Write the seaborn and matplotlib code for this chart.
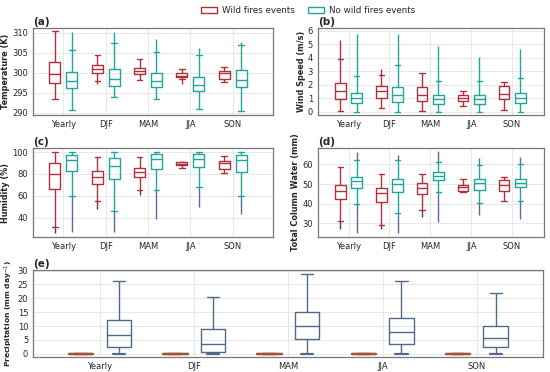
import matplotlib
matplotlib.use("Agg")
import matplotlib.pyplot as plt
from matplotlib.patches import Patch
import seaborn as sns
import pandas as pd

seasons = ["Yearly", "DJF", "MAM", "JJA", "SON"]
groups = ["Wild fires events", "No wild fires events"]

# five-number summaries per season: [whisker low, q1, median, q3, whisker high]
temp_fire = [[293.3, 297.4, 299.7, 302.6, 310.3],
             [297.9, 300.0, 301.0, 301.8, 304.3],
             [298.1, 299.7, 300.5, 301.1, 303.4],
             [298.5, 298.8, 299.2, 299.8, 301.0],
             [297.7, 298.5, 300.0, 300.5, 301.3]]
temp_nofire = [[290.7, 296.2, 297.9, 300.1, 305.7],
               [293.8, 296.6, 298.4, 301.0, 307.4],
               [293.3, 296.4, 297.9, 300.0, 305.1],
               [290.9, 295.5, 296.9, 299.0, 304.4],
               [290.3, 296.4, 298.1, 300.6, 306.9]]
temp_fire_lo = [None, 297.2, None, 297.2, None]
temp_fire_hi = [None, None, None, None, None]
temp_nofire_lo = [None, None, None, None, None]
temp_nofire_hi = [310.2, 310.2, 308.4, 306.1, 307.7]

wind_fire = [[0.05, 0.92, 1.50, 2.14, 3.93],
             [0.24, 1.02, 1.50, 1.90, 2.72],
             [0.07, 0.75, 1.21, 1.84, 2.84],
             [0.41, 0.78, 1.00, 1.26, 1.55],
             [0.12, 0.92, 1.31, 1.87, 2.20]]
wind_nofire = [[0.0, 0.60, 1.00, 1.41, 2.60],
               [0.0, 0.73, 1.21, 1.84, 3.47],
               [0.0, 0.58, 0.90, 1.26, 2.30],
               [0.0, 0.58, 0.95, 1.21, 2.23],
               [0.0, 0.60, 1.00, 1.38, 2.50]]
wind_fire_lo = [None, None, None, None, None]
wind_fire_hi = [5.3, 3.15, None, None, None]
wind_nofire_lo = [None, None, None, None, None]
wind_nofire_hi = [5.75, 5.75, 4.85, 4.05, 4.6]

hum_fire = [[31.6, 66.1, 79.5, 89.7, 100.0],
            [54.9, 70.5, 77.0, 82.3, 95.3],
            [65.5, 77.0, 81.7, 85.7, 95.3],
            [85.4, 88.5, 89.5, 90.8, 91.3],
            [80.7, 84.5, 89.7, 91.6, 96.0]]
hum_nofire = [[59.6, 82.3, 92.5, 97.5, 100.0],
              [46.5, 75.1, 87.6, 94.7, 100.0],
              [65.5, 84.5, 93.5, 98.4, 100.0],
              [68.3, 86.0, 93.8, 98.4, 100.0],
              [59.6, 82.0, 92.5, 97.5, 100.0]]
hum_fire_lo = [26.0, 47.8, 61.0, None, None]
hum_fire_hi = [None, None, None, None, None]
hum_nofire_lo = [27.0, 27.0, 38.5, 49.6, 43.4]
hum_nofire_hi = [None, None, None, None, None]

tcw_fire = [[31.4, 42.2, 46.4, 49.3, 58.8],
            [29.1, 40.7, 45.2, 48.1, 55.3],
            [36.6, 44.7, 48.1, 50.7, 55.0],
            [45.9, 46.4, 48.4, 49.7, 52.6],
            [41.2, 46.4, 49.5, 52.2, 53.4]]
tcw_nofire = [[39.8, 48.1, 51.4, 53.6, 62.1],
              [35.5, 45.9, 49.8, 52.4, 62.1],
              [46.2, 51.9, 54.1, 55.9, 61.4],
              [40.5, 47.2, 50.3, 52.4, 59.7],
              [41.2, 48.3, 50.7, 52.8, 60.2]]
tcw_fire_lo = [26.9, 27.4, 33.1, None, None]
tcw_fire_hi = [None, None, None, None, None]
tcw_nofire_lo = [25.2, 25.2, 30.9, 34.3, 32.1]
tcw_nofire_hi = [66.2, 64.8, 66.6, 63.1, 63.6]

precip_fire = [[0, 0, 0, 0, 0]] * 5
precip_nofire = [[0.0, 2.6, 6.6, 12.1, 26.4],
                 [0.0, 0.6, 3.5, 8.8, 20.6],
                 [0.0, 5.4, 10.0, 15.0, 28.8],
                 [0.0, 3.7, 7.9, 12.8, 26.2],
                 [0.0, 2.4, 5.8, 10.2, 21.8]]

RED = "#b0303c"
TEAL = "#1ea89a"
STEEL = "#4f6b8c"
BROWN = "#a0553a"
OFFSETS = [-0.2, 0.2]


def to_frame(fire, nofire):
    rows = []
    for i, s in enumerate(seasons):
        for g, summ in zip(groups, [fire[i], nofire[i]]):
            for v in summ:
                rows.append((s, g, v))
    return pd.DataFrame(rows, columns=["season", "group", "value"])


def style_axes(ax, label, ylabel, ysize=5.9):
    ax.set_title(label, loc="left", fontweight="bold", fontsize=7.5, pad=2)
    ax.set_ylabel(ylabel, fontweight="bold", fontsize=ysize, labelpad=1.5)
    ax.set_xlabel("")
    ax.tick_params(labelsize=6, length=2, width=0.6, pad=1.5)
    ax.grid(color="#e4e4e4", linewidth=0.6)
    for sp in ax.spines.values():
        sp.set_color("#777777")
        sp.set_linewidth(0.9)


def box_panel(ax, fire, nofire, fliers, flier_colors, label, ylabel, ylim, yticks, xlim):
    df = to_frame(fire, nofire)
    sns.boxplot(data=df, x="season", y="value", hue="group", order=seasons,
                hue_order=groups, palette=[RED, TEAL], fill=False, whis=(0, 100),
                width=0.8, gap=0.35, linewidth=1.0, legend=False, ax=ax)
    # flier ranges beyond the whisker caps
    for k, (lo, hi, summ) in enumerate(fliers):
        for i in range(len(seasons)):
            x = i + OFFSETS[k]
            if lo[i] is not None:
                ax.vlines(x, lo[i], summ[i][0], color=flier_colors[k], lw=1.0, zorder=1)
            if hi[i] is not None:
                ax.vlines(x, summ[i][4], hi[i], color=flier_colors[k], lw=1.0, zorder=1)
    ax.set_ylim(*ylim)
    ax.set_yticks(yticks)
    ax.set_xlim(*xlim)
    style_axes(ax, label, ylabel)


sns.set_theme(style="whitegrid")
plt.rcParams["font.family"] = ["DejaVu Sans"]

fig = plt.figure(figsize=(5.5, 3.72), dpi=100)
ax_a = fig.add_axes([0.060, 0.691, 0.436, 0.234])
ax_b = fig.add_axes([0.578, 0.691, 0.411, 0.234])
ax_c = fig.add_axes([0.060, 0.363, 0.436, 0.239])
ax_d = fig.add_axes([0.578, 0.363, 0.411, 0.239])
ax_e = fig.add_axes([0.060, 0.040, 0.927, 0.234])

box_panel(ax_a, temp_fire, temp_nofire,
          [(temp_fire_lo, temp_fire_hi, temp_fire), (temp_nofire_lo, temp_nofire_hi, temp_nofire)],
          [RED, TEAL], "(a)", "Temperature (K)", (289.4, 311.2), [290, 295, 300, 305, 310], (-0.72, 4.95))
box_panel(ax_b, wind_fire, wind_nofire,
          [(wind_fire_lo, wind_fire_hi, wind_fire), (wind_nofire_lo, wind_nofire_hi, wind_nofire)],
          [RED, TEAL], "(b)", "Wind Speed (m/s)", (-0.25, 6.2), [0, 1, 2, 3, 4, 5, 6], (-0.75, 4.78))
box_panel(ax_c, hum_fire, hum_nofire,
          [(hum_fire_lo, hum_fire_hi, hum_fire), (hum_nofire_lo, hum_nofire_hi, hum_nofire)],
          ["#5a4038", "#5b6c9a"], "(c)", "Humidity (%)", (22.3, 103.7), [40, 60, 80, 100], (-0.72, 4.95))
box_panel(ax_d, tcw_fire, tcw_nofire,
          [(tcw_fire_lo, tcw_fire_hi, tcw_fire), (tcw_nofire_lo, tcw_nofire_hi, tcw_nofire)],
          ["#5a4038", "#5b6c9a"], "(d)", "Total Column Water (mm)", (23.1, 68.3), [30, 40, 50, 60], (-0.75, 4.78))

# panel (e): precipitation
df_e = to_frame(precip_fire, precip_nofire)
sns.boxplot(data=df_e, x="season", y="value", hue="group", order=seasons,
            hue_order=groups, palette=[BROWN, STEEL], fill=False, whis=(0, 100),
            width=0.8, gap=0.35, linewidth=1.0, legend=False, ax=ax_e)
for ln in ax_e.lines:
    ys = ln.get_ydata()
    if len(ys) and max(ys) == 0:
        ln.set_linewidth(1.6)
ax_e.set_ylim(-1.2, 30.2)
ax_e.set_yticks([0, 5, 10, 15, 20, 25, 30])
ax_e.set_xlim(-0.71, 4.7)
style_axes(ax_e, "(e)", "Precipitation (mm day$^{-1}$)", ysize=5.4)

handles = [Patch(facecolor="white", edgecolor=RED, linewidth=1.0),
           Patch(facecolor="white", edgecolor=TEAL, linewidth=1.0)]
fig.legend(handles, groups, loc="upper center", bbox_to_anchor=(0.56, 1.005), ncol=2,
           frameon=False, fontsize=6.3, handlelength=1.8, handleheight=0.8, columnspacing=1.5,
           handletextpad=0.6)

fig.savefig("out.png", dpi=100)
